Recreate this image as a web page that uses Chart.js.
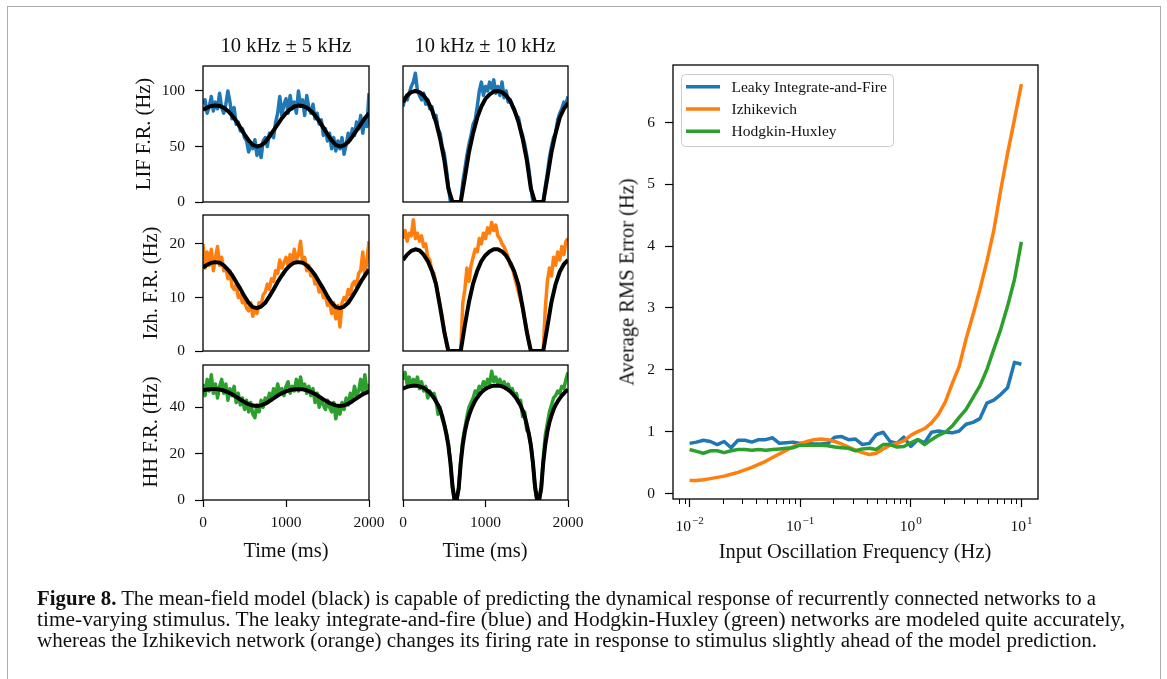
<!DOCTYPE html>
<html>
<head>
<meta charset="utf-8">
<script src="https://cdn.jsdelivr.net/npm/chart.js@4.4.0/dist/chart.umd.min.js"></script>
<style>
  body { margin: 0; background: #fff; width: 1167px; height: 679px; overflow: hidden; position: relative;
         font-family: "Liberation Serif", "Times New Roman", serif; color: #111; }
  canvas { position: absolute; left: 0; top: 0; }
  .figframe { position: absolute; left: 7px; top: 6px; width: 1152px; height: 720px; border: 1.5px solid #ababab; }
  .lbl { position: absolute; white-space: nowrap; font-size: 20.5px; transform: translate(-50%, -50%); }
  .rot { transform: translate(-50%, -50%) rotate(-90deg); }
  .cap { position: absolute; left: 37px; white-space: nowrap; font-size: 20px; transform-origin: 0 0; }
</style>
</head>
<body>
<div class="figframe"></div>

<canvas id="lifSlow" width="1167" height="679"></canvas>
<canvas id="lifFast" width="1167" height="679"></canvas>
<canvas id="izhSlow" width="1167" height="679"></canvas>
<canvas id="izhFast" width="1167" height="679"></canvas>
<canvas id="hhSlow" width="1167" height="679"></canvas>
<canvas id="hhFast" width="1167" height="679"></canvas>
<canvas id="rmsChart" width="1167" height="679"></canvas>

<div class="lbl" style="left:286px;top:45px">10 kHz ± 5 kHz</div>
<div class="lbl" style="left:485px;top:45px">10 kHz ± 10 kHz</div>
<div class="lbl rot" style="left:143px;top:134px">LIF F.R. (Hz)</div>
<div class="lbl rot" style="left:150px;top:283px">Izh. F.R. (Hz)</div>
<div class="lbl rot" style="left:150px;top:432px">HH F.R. (Hz)</div>
<div class="lbl" style="left:286px;top:550px">Time (ms)</div>
<div class="lbl" style="left:485px;top:550px">Time (ms)</div>
<div class="lbl rot" style="left:627px;top:282px">Average RMS Error (Hz)</div>
<div class="lbl" style="left:855px;top:551px">Input Oscillation Frequency (Hz)</div>

<div class="cap" data-w="1059" style="top:587px"><b>Figure 8.</b> The mean-field model (black) is capable of predicting the dynamical response of recurrently connected networks to a</div>
<div class="cap" data-w="1088" style="top:608px">time-varying stimulus. The leaky integrate-and-fire (blue) and Hodgkin-Huxley (green) networks are modeled quite accurately,</div>
<div class="cap" data-w="1060" style="top:629px">whereas the Izhikevich network (orange) changes its firing rate in response to stimulus slightly ahead of the model prediction.</div>

<script>
/* =========================
   DATA
========================= */
// time grids (ms)
const timeFine = [0, 25, 50, 75, 100, 125, 150, 175, 200, 225, 250, 275, 300, 325, 350, 375, 400, 425, 450, 475,
  500, 525, 550, 575, 600, 625, 650, 675, 700, 725, 750, 775, 800, 825, 850, 875, 900, 925, 950, 975,
  1000, 1025, 1050, 1075, 1100, 1125, 1150, 1175, 1200, 1225, 1250, 1275, 1300, 1325, 1350, 1375, 1400, 1425, 1450, 1475,
  1500, 1525, 1550, 1575, 1600, 1625, 1650, 1675, 1700, 1725, 1750, 1775, 1800, 1825, 1850, 1875, 1900, 1925, 1950, 1975, 2000];
const timeCoarse = [0, 50, 100, 150, 200, 250, 300, 350, 400, 450, 500, 550, 600, 650, 700, 750, 800, 850, 900, 950,
  1000, 1050, 1100, 1150, 1200, 1250, 1300, 1350, 1400, 1450, 1500, 1550, 1600, 1650, 1700, 1750, 1800, 1850, 1900, 1950, 2000];

// LIF, 10 kHz +- 5 kHz
const lifSlowNet = [88, 92, 80, 86, 95, 82, 90, 84, 98, 85,
  80, 88, 100, 90, 75, 85, 70, 72, 64, 66,
  58, 55, 45, 52, 48, 56, 42, 50, 40, 55,
  58, 50, 62, 60, 58, 72, 80, 95, 78, 88,
  93, 80, 96, 84, 90, 80, 100, 86, 92, 78,
  96, 85, 80, 88, 75, 80, 70, 74, 60, 66,
  55, 62, 48, 58, 46, 55, 48, 58, 43, 52,
  62, 56, 66, 60, 72, 66, 78, 62, 75, 68,
  98];
const lifSlowModel = [83, 85, 86.5, 87, 86.5, 85, 82, 78, 73, 67, 61, 55.5, 51.5, 50, 51, 54, 59, 64.5, 70, 75.5,
  80, 83.5, 86, 87, 86.5, 85, 82, 78, 73, 67, 61, 55.5, 51.5, 50, 51, 54, 59, 64.5, 70, 75.5, 80];

// LIF, 10 kHz +- 10 kHz
const lifFastNet = [86, 94, 92, 98, 104, 108, 116, 100, 96, 92,
  98, 88, 92, 84, 86, 76, 78, 66, 62, 50,
  44, 30, 14, 0, 0, 0, 0, 0, 0, 18,
  30, 42, 52, 60, 70, 74, 86, 100, 108, 96,
  104, 100, 108, 102, 110, 98, 104, 96, 108, 94,
  100, 90, 92, 86, 82, 78, 76, 66, 60, 52,
  42, 30, 14, 0, 0, 0, 0, 0, 0, 14,
  26, 40, 50, 58, 62, 74, 80, 84, 90, 88,
  95];
const lifFastModel = [90, 96, 99, 100, 99, 96, 91, 83, 72, 57, 38, 12, 0, 0, 0, 22, 45, 62, 76, 86,
  93, 97, 99.5, 100, 99, 96, 91, 83, 72, 57, 38, 12, 0, 0, 0, 22, 45, 62, 76, 84, 89];

// Izhikevich, 10 kHz +- 5 kHz
const izhSlowNet = [20, 15.5, 18.5, 16, 19, 15, 17.5, 19.5, 16, 17.5,
  15, 15.5, 13.5, 15, 12, 11.5, 12.5, 10, 10.5, 9,
  9.5, 8, 7.5, 9, 6.5, 8, 7, 9, 8.5, 10.5,
  11, 12.5, 11.5, 13.5, 13, 15, 14.5, 17, 15.5, 16.5,
  17.5, 16, 18, 16.5, 19, 17, 18, 20.5, 16.5, 17.5,
  15, 16, 14, 14.5, 12.5, 13, 11, 12, 10, 10.5,
  8.5, 9.5, 7, 9, 6, 8.5, 4.5, 9, 10, 9.5,
  11.5, 10.5, 12.5, 13, 12, 14.5, 15, 18.5, 14, 17,
  20.5];
const izhSlowModel = [15.6, 16.1, 16.5, 16.6, 16.5, 16.0, 15.2, 14.2, 12.9, 11.6, 10.2, 9.0, 8.2, 8.0, 8.3, 9.0, 10.2, 11.5, 12.9, 14.1,
  15.2, 16.0, 16.5, 16.6, 16.5, 16.0, 15.2, 14.2, 12.9, 11.6, 10.2, 9.0, 8.2, 8.0, 8.3, 9.0, 10.2, 11.5, 12.9, 14.1, 15.2];

// Izhikevich, 10 kHz +- 10 kHz
const izhFastNet = [21, 22.5, 20.5, 22, 21.5, 24.5, 21, 22, 20.5, 21.5,
  19.5, 20, 17.5, 17, 15, 14.5, 12.5, 10.5, 8.5, 6.5,
  4, 1.5, 0, 0, 0, 0, 0, 0, 0, 9,
  11.5, 15.5, 13, 16, 17.5, 19, 18.5, 21, 20, 22,
  21, 23, 22, 24, 22.5, 23.5, 21.5, 21, 20, 19.5,
  18.5, 17.5, 16, 15.5, 14, 12.5, 11, 9.5, 8, 6,
  4, 1.5, 0, 0, 0, 0, 0, 0, 0, 8,
  13, 15.5, 14, 17.5, 16, 18.5, 17, 19.5, 18, 20.5,
  21];
const izhFastModel = [17.0, 18.0, 18.7, 19.0, 18.8, 18.0, 16.8, 15.0, 12.5, 8.2, 3.6, 0, 0, 0, 0, 4.8, 9.2, 12.6, 15.0, 16.8,
  17.9, 18.6, 19.0, 19.0, 18.6, 17.8, 16.5, 14.8, 12.3, 8.2, 3.6, 0, 0, 0, 0, 4.5, 9.2, 12.5, 14.8, 16.2, 17.0];

// Hodgkin-Huxley, 10 kHz +- 5 kHz
const hhSlowNet = [50, 45, 52, 47, 54, 46, 50, 44, 49, 52,
  46, 50, 43, 48, 45, 49, 42, 46, 41, 44,
  39, 43, 38, 42, 37, 35.5, 41, 38, 43, 40,
  44, 42, 46, 43, 48, 45, 50, 46, 48, 45,
  49, 51, 46, 49, 47, 52, 47, 53, 48, 50,
  46, 49, 45, 48, 42, 46, 40, 44, 41, 39,
  43, 40, 38, 42, 35, 40, 37, 42, 39, 44,
  41, 46, 43, 49, 45, 47, 52, 46, 54, 47,
  50];
const hhSlowModel = [47.3, 47.6, 47.8, 47.8, 47.6, 47.2, 46.5, 45.6, 44.5, 43.3, 42.2, 41.3, 40.7, 40.5, 40.8, 41.5, 42.6, 43.8, 45.0, 46.0,
  46.8, 47.4, 47.7, 47.8, 47.7, 47.3, 46.6, 45.7, 44.6, 43.4, 42.3, 41.4, 40.8, 40.5, 40.8, 41.5, 42.6, 43.8, 45.0, 46.0, 46.7];

// Hodgkin-Huxley, 10 kHz +- 10 kHz (model on the fine grid, the dips are narrow)
const hhFastNet = [52, 55, 50, 53, 49, 52, 50, 53, 48, 51,
  47, 49, 44, 47, 45, 46, 43, 37, 40, 35,
  33, 29, 24, 16, 5, 0, 0, 5, 17, 26,
  31, 36, 40, 42, 44, 47, 46, 49, 48, 51,
  49, 52, 50, 55.5, 51, 53, 50, 52, 49, 51,
  48, 50, 47, 48, 45, 46, 42, 43, 36, 38,
  30, 29, 24, 16, 5, 0, 0, 5, 18, 28,
  33, 38, 41, 44, 45, 47, 46, 49, 48, 52,
  55];
const hhFastModel = [48.0, 48.4, 48.8, 49.0, 49.2, 49.3, 49.3, 49.2, 49.0, 48.7,
  48.3, 47.8, 47.0, 46.2, 45.2, 44.0, 42.5, 41.0, 38.8, 36.2,
  32.5, 28.5, 23.5, 16, 6, 0, 0, 5, 16, 24,
  29.5, 33.5, 36.5, 39.0, 41.0, 42.8, 44.2, 45.4, 46.4, 47.2,
  47.9, 48.4, 48.8, 49.1, 49.2, 49.3, 49.3, 49.2, 49.0, 48.6,
  48.1, 47.5, 46.8, 45.9, 44.9, 43.7, 42.3, 40.7, 38.6, 36.0,
  32.5, 28.5, 23.5, 16, 6, 0, 0, 5, 16, 24,
  29.5, 33.5, 36.5, 39.0, 41.0, 42.5, 43.8, 45.0, 46.0, 46.9,
  47.6];

// RMS error vs input oscillation frequency
const freqHz = [0.01, 0.01155, 0.01334, 0.0154, 0.01778, 0.02054, 0.02371, 0.02738, 0.03162, 0.03652, 0.04217, 0.0487, 0.05623, 0.06494, 0.07499, 0.0866,
  0.1, 0.1155, 0.1334, 0.154, 0.1778, 0.2054, 0.2371, 0.2738, 0.3162, 0.3652, 0.4217, 0.487, 0.5623, 0.6494, 0.7499, 0.866,
  1, 1.155, 1.334, 1.54, 1.778, 2.054, 2.371, 2.738, 3.162, 3.652, 4.217, 4.87, 5.623, 6.494, 7.499, 8.66, 10];
const rmsLIF = [0.81, 0.83, 0.86, 0.84, 0.79, 0.84, 0.74, 0.86, 0.86, 0.83, 0.87, 0.87, 0.90, 0.81, 0.82, 0.83,
  0.81, 0.81, 0.80, 0.80, 0.81, 0.91, 0.92, 0.87, 0.88, 0.79, 0.81, 0.95, 0.99, 0.84, 0.81, 0.91,
  0.76, 0.87, 0.82, 0.99, 1.01, 0.99, 0.98, 1.01, 1.12, 1.15, 1.21, 1.46, 1.51, 1.60, 1.71, 2.12, 2.09];
const rmsIzh = [0.21, 0.21, 0.22, 0.24, 0.26, 0.28, 0.31, 0.34, 0.38, 0.42, 0.47, 0.52, 0.58, 0.64, 0.70, 0.76,
  0.80, 0.84, 0.87, 0.88, 0.87, 0.84, 0.80, 0.75, 0.70, 0.66, 0.63, 0.65, 0.72, 0.78, 0.81, 0.85,
  0.94, 1.00, 1.05, 1.14, 1.28, 1.48, 1.78, 2.05, 2.50, 2.89, 3.30, 3.75, 4.25, 4.90, 5.50, 6.05, 6.62];
const rmsHH = [0.71, 0.68, 0.65, 0.69, 0.69, 0.66, 0.69, 0.71, 0.71, 0.70, 0.71, 0.70, 0.71, 0.72, 0.73, 0.74,
  0.78, 0.78, 0.78, 0.78, 0.77, 0.75, 0.74, 0.73, 0.69, 0.72, 0.73, 0.71, 0.79, 0.79, 0.75, 0.76,
  0.82, 0.87, 0.79, 0.87, 0.94, 0.99, 1.09, 1.23, 1.36, 1.55, 1.74, 2.00, 2.33, 2.65, 3.03, 3.46, 4.07];
const seriesNames = ["Leaky Integrate-and-Fire", "Izhikevich", "Hodgkin-Huxley"];

// ticks
const lifTicks = [0, 50, 100];
const izhTicks = [0, 10, 20];
const hhTicks = [0, 20, 40];
const timeTicks = [0, 1000, 2000];
const rmsTicks = [0, 1, 2, 3, 4, 5, 6];
const freqTicks = [0.01, 0.1, 1, 10];
const freqTickExponents = ["\u22122", "\u22121", "0", "1"];
const freqMinorTicks = [0.008, 0.009, 0.02, 0.03, 0.04, 0.05, 0.06, 0.07, 0.08, 0.09,
  0.2, 0.3, 0.4, 0.5, 0.6, 0.7, 0.8, 0.9, 2, 3, 4, 5, 6, 7, 8, 9];

/* =========================
   HELPERS
========================= */
const W = 1167, H = 679;
const SERIF = "'Liberation Serif', 'Times New Roman', serif";
const BLUE = "#1f77b4", ORANGE = "#ff7f0e", GREEN = "#2ca02c";

const framePlugin = {
  id: "frame",
  afterDraw(chart) {
    const { ctx, chartArea: a } = chart;
    ctx.save();
    ctx.strokeStyle = "#000";
    ctx.lineWidth = 1.3;
    ctx.strokeRect(a.left, a.top, a.right - a.left, a.bottom - a.top);
    ctx.restore();
  }
};

function line(xs, ys, color, width, order, label) {
  return {
    label: label,
    data: xs.map((x, i) => ({ x: x, y: ys[i] })),
    borderColor: color,
    borderWidth: width,
    borderJoinStyle: "round",
    pointRadius: 0,
    tension: 0,
    clip: 0,
    order: order
  };
}

function fixedTicks(values) {
  return scale => { scale.ticks = values.map(v => ({ value: v })); };
}

function axis(o) {
  const size = o.ticks ? 40 : 0;
  return {
    type: o.type || "linear",
    min: o.min,
    max: o.max,
    display: !!o.ticks,
    afterFit: s => { if (o.horizontal) s.height = size; else s.width = size; },
    afterBuildTicks: fixedTicks(o.ticks || []),
    grid: { drawOnChartArea: false, drawTicks: true, tickLength: o.tickLength || 7, tickColor: "#000", tickWidth: 1.2 },
    border: { display: false },
    ticks: {
      display: !o.hideLabels,
      color: "#111",
      font: { family: SERIF, size: 15.5 },
      padding: o.padding,
      maxRotation: 0,
      autoSkip: false,
      callback: v => String(v)
    }
  };
}

function panel(id, box, datasets, xo, yo, extraPlugins) {
  const xH = xo.ticks ? 40 : 0;
  const yW = yo.ticks ? 40 : 0;
  return new Chart(document.getElementById(id), {
    type: "line",
    data: { datasets: datasets },
    options: {
      responsive: false,
      animation: false,
      events: [],
      layout: {
        autoPadding: false,
        padding: { left: box.l - yW, top: box.t, right: W - box.r, bottom: H - box.b - xH }
      },
      plugins: { legend: { display: false }, tooltip: { enabled: false } },
      scales: {
        x: axis(Object.assign({ horizontal: true }, xo)),
        y: axis(yo)
      }
    },
    plugins: [framePlugin].concat(extraPlugins || [])
  });
}

/* =========================
   SMALL PANELS
========================= */
const colL = { l: 203, r: 369 }, colR = { l: 403, r: 568 };
const row1 = { t: 66, b: 202 }, row2 = { t: 215, b: 351 }, row3 = { t: 365, b: 500 };
const box = (c, r) => ({ l: c.l, r: c.r, t: r.t, b: r.b });

const xHidden = { min: 0, max: 2000 };
const xShown = { min: 0, max: 2000, ticks: timeTicks, tickLength: 7, padding: 7 };

panel("lifSlow", box(colL, row1),
  [line(timeCoarse, lifSlowModel, "#000", 4, 0), line(timeFine, lifSlowNet, BLUE, 3.5, 1)],
  xHidden, { min: 0, max: 122.5, ticks: lifTicks, tickLength: 8, padding: 10 });
panel("lifFast", box(colR, row1),
  [line(timeCoarse, lifFastModel, "#000", 4, 0), line(timeFine, lifFastNet, BLUE, 3.5, 1)],
  xHidden, { min: 0, max: 122.5 });

panel("izhSlow", box(colL, row2),
  [line(timeCoarse, izhSlowModel, "#000", 4, 0), line(timeFine, izhSlowNet, ORANGE, 3.5, 1)],
  xHidden, { min: 0, max: 25.4, ticks: izhTicks, tickLength: 8, padding: 10 });
panel("izhFast", box(colR, row2),
  [line(timeCoarse, izhFastModel, "#000", 4, 0), line(timeFine, izhFastNet, ORANGE, 3.5, 1)],
  xHidden, { min: 0, max: 25.4 });

panel("hhSlow", box(colL, row3),
  [line(timeCoarse, hhSlowModel, "#000", 4, 0), line(timeFine, hhSlowNet, GREEN, 3.5, 1)],
  xShown, { min: 0, max: 58.2, ticks: hhTicks, tickLength: 8, padding: 10 });
panel("hhFast", box(colR, row3),
  [line(timeFine, hhFastModel, "#000", 4, 0), line(timeFine, hhFastNet, GREEN, 3.5, 1)],
  xShown, { min: 0, max: 58.2 });

/* =========================
   RMS ERROR PANEL
========================= */
// minor log ticks + "10^n" labels with a raised exponent
const logAxisPlugin = {
  id: "logAxis",
  afterDraw(chart) {
    const { ctx, chartArea: a } = chart;
    const sx = chart.scales.x;
    ctx.save();
    ctx.strokeStyle = "#000";
    ctx.lineWidth = 1;
    freqMinorTicks.forEach(v => {
      const px = Math.round(sx.getPixelForValue(v)) + 0.5;
      ctx.beginPath();
      ctx.moveTo(px, a.bottom);
      ctx.lineTo(px, a.bottom + 5);
      ctx.stroke();
    });
    ctx.fillStyle = "#111";
    ctx.textBaseline = "alphabetic";
    ctx.textAlign = "left";
    freqTicks.forEach((v, i) => {
      const px = sx.getPixelForValue(v);
      ctx.font = "15.5px " + SERIF;
      const wBase = ctx.measureText("10").width;
      ctx.font = "11px " + SERIF;
      const wExp = ctx.measureText(freqTickExponents[i]).width;
      const x0 = px - (wBase + wExp + 1) / 2;
      ctx.font = "15.5px " + SERIF;
      ctx.fillText("10", x0, a.bottom + 31.5);
      ctx.font = "11px " + SERIF;
      ctx.fillText(freqTickExponents[i], x0 + wBase + 1, a.bottom + 25);
    });
    ctx.restore();
  }
};

const legendPlugin = {
  id: "legendBox",
  afterDatasetsDraw(chart) {
    const { ctx, chartArea: a } = chart;
    const x = a.left + 8, y = a.top + 9, w = 212, h = 72, r = 4;
    ctx.save();
    ctx.beginPath();
    ctx.roundRect(x + 0.5, y + 0.5, w, h, r);
    ctx.fillStyle = "rgba(255,255,255,0.8)";
    ctx.fill();
    ctx.strokeStyle = "#cccccc";
    ctx.lineWidth = 1;
    ctx.stroke();
    ctx.font = "15.5px " + SERIF;
    ctx.textBaseline = "middle";
    chart.data.datasets.forEach((ds, i) => {
      const cy = y + 12.7 + i * 22.3;
      ctx.strokeStyle = ds.borderColor;
      ctx.lineWidth = 3.5;
      ctx.beginPath();
      ctx.moveTo(x + 5, cy);
      ctx.lineTo(x + 39, cy);
      ctx.stroke();
      ctx.fillStyle = "#111";
      ctx.fillText(ds.label, x + 50.5, cy + 1);
    });
    ctx.restore();
  }
};

panel("rmsChart", { l: 673, r: 1038, t: 65, b: 499 },
  [line(freqHz, rmsLIF, BLUE, 3.5, 2, seriesNames[0]),
   line(freqHz, rmsIzh, ORANGE, 3.5, 1, seriesNames[1]),
   line(freqHz, rmsHH, GREEN, 3.5, 0, seriesNames[2])],
  { type: "logarithmic", min: 0.00708, max: 14.13, ticks: freqTicks, hideLabels: true, tickLength: 8, padding: 6 },
  { min: -0.09, max: 6.93, ticks: rmsTicks, tickLength: 8, padding: 10 },
  [logAxisPlugin, legendPlugin]);

/* =========================
   CAPTION WIDTH FIT
========================= */
document.querySelectorAll(".cap").forEach(el => {
  const target = +el.dataset.w;
  const w = el.getBoundingClientRect().width;
  el.style.transform = "scaleX(" + (target / w) + ")";
});
</script>
</body>
</html>
